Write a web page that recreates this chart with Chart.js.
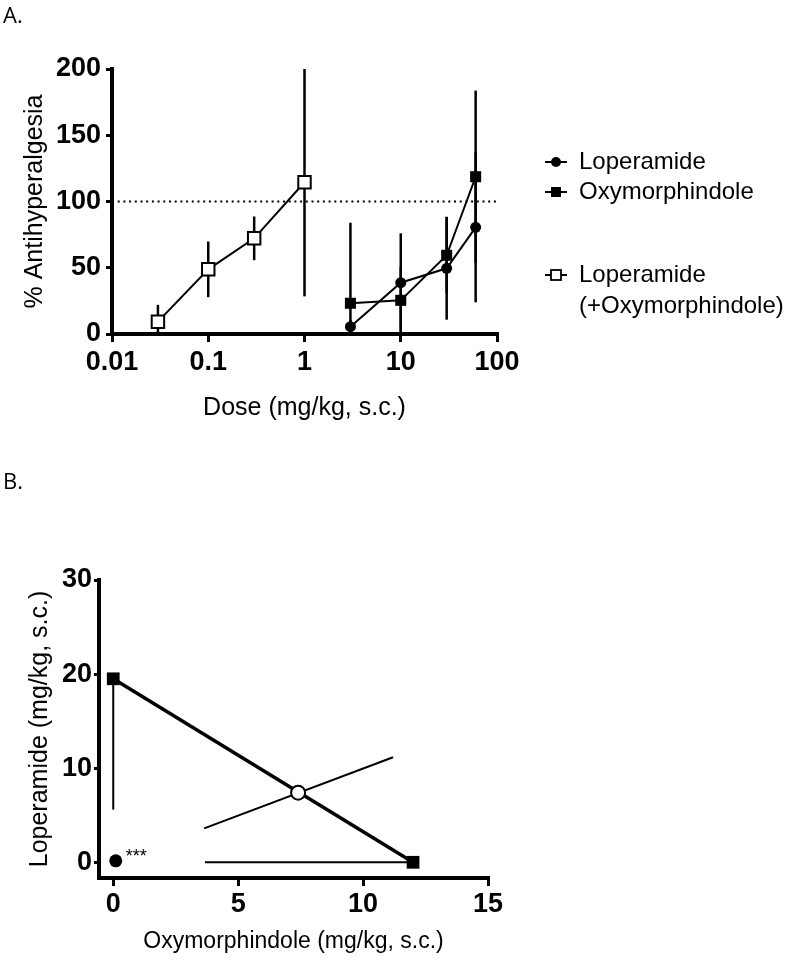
<!DOCTYPE html>
<html>
<head>
<meta charset="utf-8">
<script src="https://cdn.jsdelivr.net/npm/chart.js@4.4.1/dist/chart.umd.min.js"></script>
<style>
    html, body { margin: 0; padding: 0; background: #fff; }
    #pagina { position: relative; width: 788px; height: 960px; overflow: hidden; }
    .panel { position: absolute; left: 0; }
    .etiqueta { position: absolute; left: 3px; z-index: 2; font-family: "Open Sans", sans-serif; font-size: 22px; line-height: 22px; color: #000; }
</style>
</head>
<body>
<div id="pagina">
    <canvas id="graficoA" class="panel" width="788" height="440" style="top:0"></canvas>
    <canvas id="graficoB" class="panel" width="788" height="520" style="top:440px"></canvas>
    <div class="etiqueta" style="top:3px">A.</div>
    <div class="etiqueta" style="top:469px">B.</div>
</div>
<script>

// ---- Panel A: curvas dosis-respuesta ----
const dosisSola = [3, 10, 30, 60];
const lopVal = [5.5, 38.7, 49.6, 80.5];
const lopErr = [5, 37.3, 38.8, 56.6];
const oxyVal = [23.2, 25.4, 59.4, 118.7];
const oxyErr = [60.8, 25, 29, 65];

const dosisCombinada = [0.03, 0.1, 0.3, 1];
const combVal = [9.3, 48.8, 72.2, 114.5];
const combErr = [12.7, 21, 16.5, 86.1];

const lineaReferencia = 100;
const ticksDosis = [0.01, 0.1, 1, 10, 100];
const etiquetasDosis = ["0.01", "0.1", "1", "10", "100"];
const ticksAntihiper = [0, 50, 100, 150, 200];

// ---- Panel B: isobolograma ----
const ed50Lop = 19.5;       // loperamida sola (eje y)
const ed50LopInf = 5.6;     // limite inferior
const ed50Oxy = 12;         // oxymorphindole sola (eje x)
const ed50OxyInf = 3.67;    // limite inferior
const mezclaX = [7.4];
const mezclaY = [7.4];
const mezclaIcX = [3.64, 11.2];   // intervalo de la mezcla
const mezclaIcY = [3.6, 11.16];
const lopCeroX = [0.1];
const lopCeroY = [0.15];
const ticksOxyB = [0, 5, 10, 15];
const ticksLopB = [0, 10, 20, 30];

const FAMILIA = '"Liberation Sans", Arial, Helvetica, sans-serif';
Chart.defaults.font.family = FAMILIA;
Chart.defaults.color = "#000";

const fuenteTicks = { family: FAMILIA, size: 27, weight: "bold" };

function puntos(xs, ys) {
    return xs.map((x, i) => ({ x: x, y: ys[i] }));
}

// barras de error dibujadas con las escalas del grafico
function crearBarrasError(series, recortar) {
    return {
        id: "barrasError",
        beforeDatasetsDraw(chart) {
            const ctx = chart.ctx;
            const area = chart.chartArea;
            const sx = chart.scales.x, sy = chart.scales.y;
            ctx.save();
            if (recortar) {
                ctx.beginPath();
                ctx.rect(area.left, area.top, area.right - area.left, area.bottom - area.top);
                ctx.clip();
            }
            ctx.strokeStyle = "#000";
            series.forEach(s => {
                ctx.lineWidth = s.ancho;
                s.pos.forEach((p, i) => {
                    ctx.beginPath();
                    if (s.eje === "x") {
                        const py = sy.getPixelForValue(p);
                        ctx.moveTo(sx.getPixelForValue(s.desde[i]), py);
                        ctx.lineTo(sx.getPixelForValue(s.hasta[i]), py);
                    } else {
                        const px = sx.getPixelForValue(p);
                        ctx.moveTo(px, sy.getPixelForValue(s.desde[i]));
                        ctx.lineTo(px, sy.getPixelForValue(s.hasta[i]));
                    }
                    ctx.stroke();
                });
            });
            ctx.restore();
        }
    };
}

// leyenda del panel A (simbolo + texto)
const leyendaA = {
    id: "leyendaA",
    afterDraw(chart) {
        const ctx = chart.ctx;
        const items = [
            { lineas: ["Loperamide"], simbolo: "circulo", y: 162 },
            { lineas: ["Oxymorphindole"], simbolo: "cuadro", y: 192 },
            { lineas: ["Loperamide", "(+Oxymorphindole)"], simbolo: "abierto", y: 275 }
        ];
        ctx.save();
        ctx.font = "24px " + FAMILIA;
        ctx.fillStyle = "#000";
        ctx.strokeStyle = "#000";
        ctx.textAlign = "left";
        ctx.textBaseline = "middle";
        items.forEach(it => {
            const cx = 556;
            ctx.lineWidth = 2;
            ctx.beginPath();
            ctx.moveTo(545, it.y);
            ctx.lineTo(567, it.y);
            ctx.stroke();
            if (it.simbolo === "circulo") {
                ctx.beginPath();
                ctx.arc(cx, it.y, 5, 0, Math.PI * 2);
                ctx.fill();
            } else if (it.simbolo === "cuadro") {
                ctx.fillRect(cx - 5, it.y - 5, 10, 10);
            } else {
                ctx.fillStyle = "#fff";
                ctx.fillRect(cx - 5, it.y - 5, 10, 10);
                ctx.fillStyle = "#000";
                ctx.lineWidth = 1.8;
                ctx.strokeRect(cx - 5, it.y - 5, 10, 10);
            }
            it.lineas.forEach((t, k) => {
                ctx.fillText(t, 579, it.y + k * 31);
            });
        });
        ctx.restore();
    }
};

const graficoA = new Chart(document.getElementById("graficoA").getContext("2d"), {
    type: "scatter",
    plugins: [
        crearBarrasError([
            { pos: dosisSola, desde: lopVal.map((v, i) => v - lopErr[i]), hasta: lopVal.map((v, i) => v + lopErr[i]), ancho: 2.5 },
            { pos: dosisSola, desde: oxyVal.map((v, i) => v - oxyErr[i]), hasta: oxyVal.map((v, i) => v + oxyErr[i]), ancho: 2.5 },
            { pos: dosisCombinada, desde: combVal.map((v, i) => v - combErr[i]), hasta: combVal.map((v, i) => v + combErr[i]), ancho: 2.5 }
        ], true),
        leyendaA
    ],
    data: {
        datasets: [
            {
                label: "Loperamide",
                data: puntos(dosisSola, lopVal),
                showLine: true,
                borderColor: "#000",
                borderWidth: 2,
                pointStyle: "circle",
                pointRadius: 5.5,
                pointBackgroundColor: "#000",
                pointBorderColor: "#000",
                pointBorderWidth: 0,
                order: 1
            },
            {
                label: "Oxymorphindole",
                data: puntos(dosisSola, oxyVal),
                showLine: true,
                borderColor: "#000",
                borderWidth: 2,
                pointStyle: "rect",
                pointRadius: 7.8,
                pointBackgroundColor: "#000",
                pointBorderColor: "#000",
                pointBorderWidth: 0,
                order: 2
            },
            {
                label: "Loperamide (+Oxymorphindole)",
                data: puntos(dosisCombinada, combVal),
                showLine: true,
                borderColor: "#000",
                borderWidth: 2,
                pointStyle: "rect",
                pointRadius: 8.8,
                pointBackgroundColor: "#fff",
                pointBorderColor: "#000",
                pointBorderWidth: 2,
                order: 3
            },
            {
                label: "100%",
                data: puntos([ticksDosis[0], ticksDosis[ticksDosis.length - 1]], [lineaReferencia, lineaReferencia]),
                showLine: true,
                borderColor: "#000",
                borderWidth: 2.2,
                borderDash: [2, 3.7],
                pointRadius: 0,
                order: 4
            }
        ]
    },
    options: {
        responsive: false,
        animation: false,
        events: [],
        layout: { padding: { top: 69, right: 291, bottom: 0, left: 0 } },
        plugins: { legend: { display: false }, tooltip: { enabled: false } },
        scales: {
            x: {
                type: "logarithmic",
                min: 0.01,
                max: 100,
                afterBuildTicks: s => { s.ticks = ticksDosis.map(v => ({ value: v })); },
                afterFit: s => { s.height = 106; },
                ticks: {
                    autoSkip: false, maxRotation: 0, color: "#000", padding: 4, font: fuenteTicks,
                    callback: (v, i) => etiquetasDosis[i]
                },
                grid: { drawOnChartArea: false, tickLength: 8, color: "#000", lineWidth: 3 },
                border: { color: "#000", width: 4 },
                title: { display: true, text: "Dose (mg/kg, s.c.)", color: "#000", font: { size: 25 }, padding: { top: 0, bottom: 17 } }
            },
            y: {
                min: 0,
                max: 200,
                afterBuildTicks: s => { s.ticks = ticksAntihiper.map(v => ({ value: v })); },
                afterFit: s => { s.width = 112; },
                ticks: { color: "#000", padding: 5, font: fuenteTicks },
                grid: { drawOnChartArea: false, tickLength: 6, color: "#000", lineWidth: 3 },
                border: { color: "#000", width: 4 },
                title: { display: true, text: "% Antihyperalgesia", color: "#000", font: { size: 25 }, padding: { top: 20, bottom: 0 } }
            }
        }
    }
});

// asteriscos junto a la loperamida en 0
const asteriscos = {
    id: "asteriscos",
    afterDatasetsDraw(chart) {
        const p = chart.getDatasetMeta(3).data[0];
        const ctx = chart.ctx;
        ctx.save();
        ctx.font = "18px " + FAMILIA;
        ctx.fillStyle = "#000";
        ctx.textAlign = "left";
        ctx.textBaseline = "alphabetic";
        ctx.fillText("***", p.x + 10, p.y + 1);
        ctx.restore();
    }
};

const graficoB = new Chart(document.getElementById("graficoB").getContext("2d"), {
    type: "scatter",
    plugins: [
        crearBarrasError([
            { pos: [0], desde: [ed50LopInf], hasta: [ed50Lop], ancho: 2 },
            { pos: [0], eje: "x", desde: [ed50OxyInf], hasta: [ed50Oxy], ancho: 2 }
        ], false),
        asteriscos
    ],
    data: {
        datasets: [
            {
                label: "Isobola",
                data: puntos([0, ed50Oxy], [ed50Lop, 0]),
                showLine: true,
                borderColor: "#000",
                borderWidth: 3.5,
                pointStyle: "rect",
                pointRadius: 9,
                pointBackgroundColor: "#000",
                pointBorderColor: "#000",
                pointBorderWidth: 0,
                order: 2
            },
            {
                label: "IC mezcla",
                data: puntos(mezclaIcX, mezclaIcY),
                showLine: true,
                borderColor: "#000",
                borderWidth: 2,
                pointRadius: 0,
                order: 3
            },
            {
                label: "Mezcla",
                data: puntos(mezclaX, mezclaY),
                pointStyle: "circle",
                pointRadius: 7,
                pointBackgroundColor: "#fff",
                pointBorderColor: "#000",
                pointBorderWidth: 2,
                order: 0
            },
            {
                label: "Loperamida",
                data: puntos(lopCeroX, lopCeroY),
                pointStyle: "circle",
                pointRadius: 6.5,
                pointBackgroundColor: "#000",
                pointBorderColor: "#000",
                pointBorderWidth: 0,
                order: 1
            }
        ]
    },
    options: {
        responsive: false,
        animation: false,
        events: [],
        layout: { padding: { top: 140, right: 300, bottom: 0, left: 0 } },
        plugins: { legend: { display: false }, tooltip: { enabled: false } },
        scales: {
            x: {
                type: "linear",
                min: -0.57,
                max: 15,
                afterBuildTicks: s => { s.ticks = ticksOxyB.map(v => ({ value: v })); },
                afterFit: s => { s.height = 82; },
                ticks: { autoSkip: false, maxRotation: 0, color: "#000", padding: 2.5, font: fuenteTicks },
                grid: { drawOnChartArea: false, tickLength: 8, color: "#000", lineWidth: 3 },
                border: { color: "#000", width: 4 },
                title: { display: true, text: "Oxymorphindole (mg/kg, s.c.)", color: "#000", font: { size: 23 }, padding: { top: 0, bottom: 4.5 } }
            },
            y: {
                min: -1.67,
                max: 30,
                afterBuildTicks: s => { s.ticks = ticksLopB.map(v => ({ value: v })); },
                afterFit: s => { s.width = 99; },
                ticks: { color: "#000", padding: 2, font: fuenteTicks },
                grid: { drawOnChartArea: false, tickLength: 5, color: "#000", lineWidth: 3 },
                border: { color: "#000", width: 4 },
                title: { display: true, text: "Loperamide (mg/kg, s.c.)", color: "#000", font: { size: 25 }, padding: { top: 25, bottom: 0 } }
            }
        }
    }
});

//fin
</script>
</body>
</html>
